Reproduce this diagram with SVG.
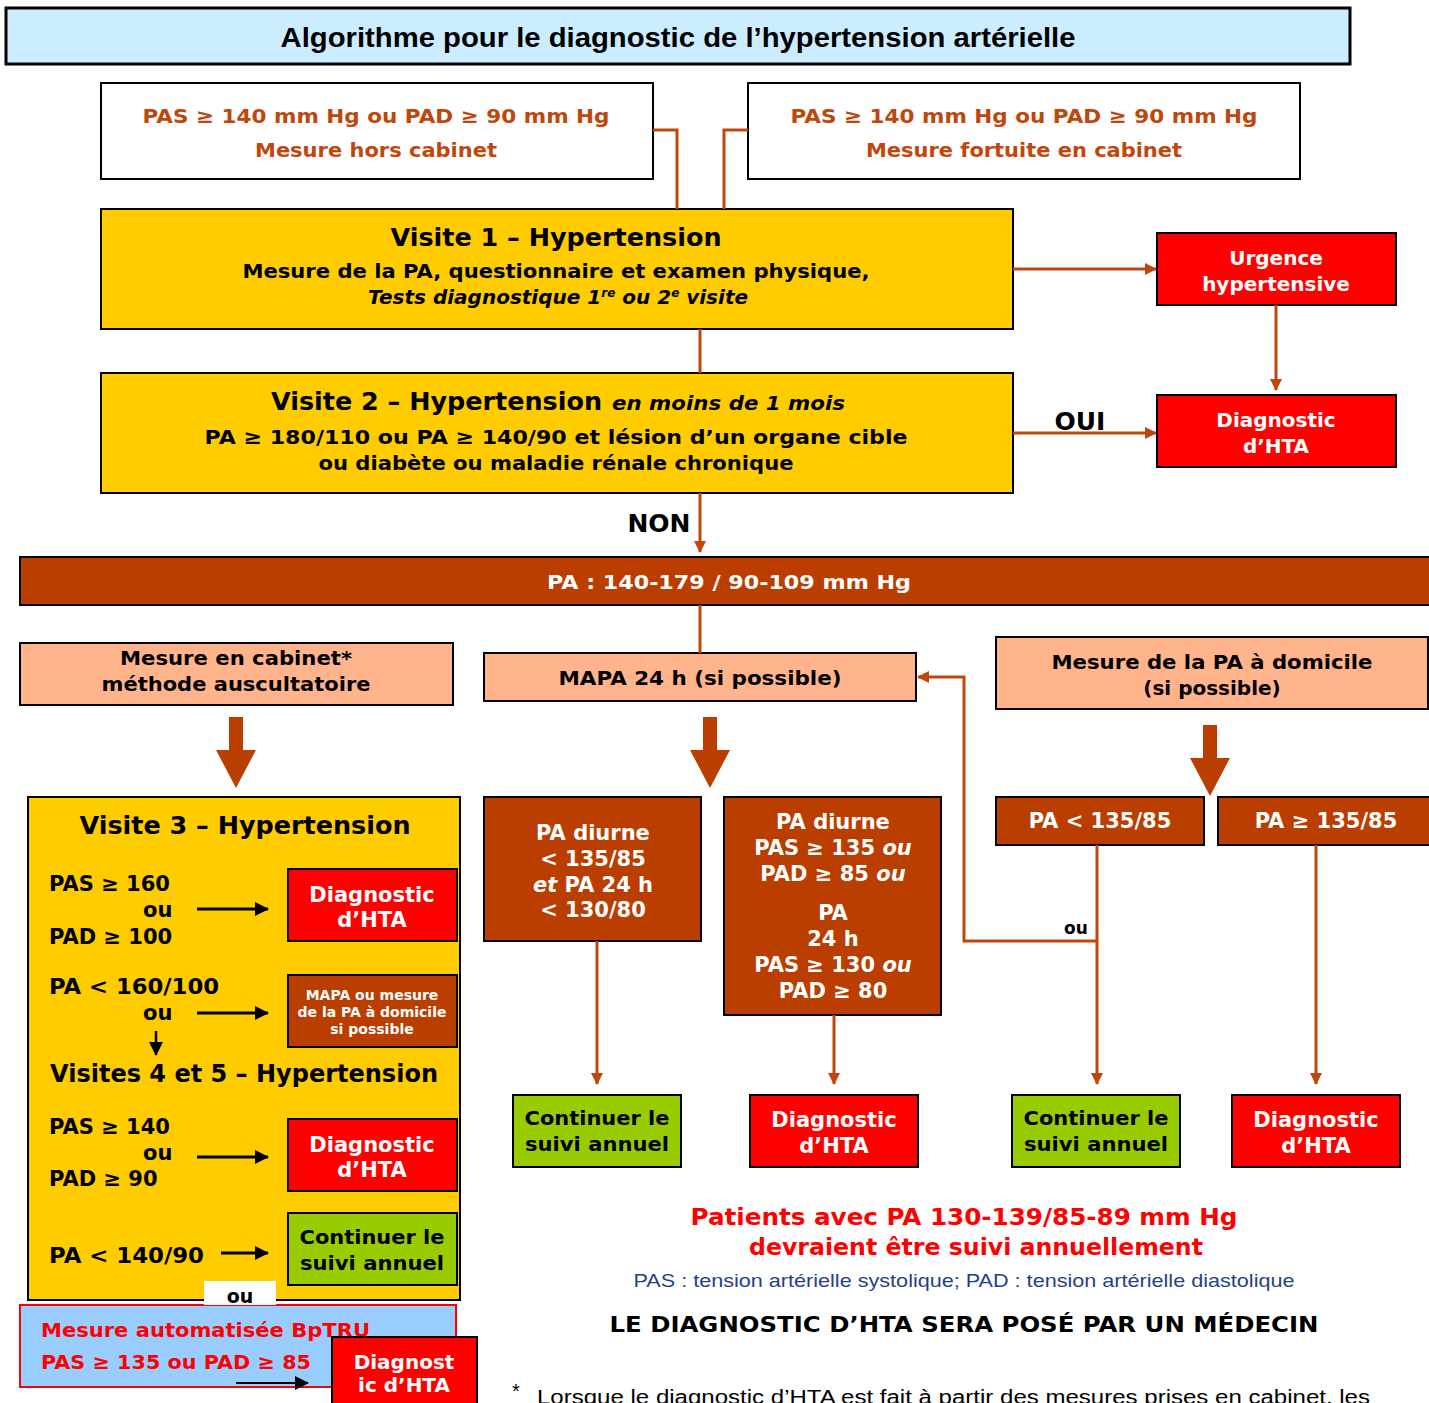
<svg xmlns="http://www.w3.org/2000/svg" width="1429" height="1403" viewBox="0 0 1429 1403">
<style>
.t{font-family:"DejaVu Sans","Verdana",sans-serif;font-weight:bold;text-anchor:middle}
.l{text-anchor:start}
.w{fill:#fff}
.k{fill:#000}
.o{fill:#C0470C}
.r{fill:#FF0000}
.box{stroke:#000;stroke-width:2}
.yel{fill:#FFCC00}
.red{fill:#FF0000}
.brn{fill:#BA3E00}
.pch{fill:#FFB48C}
.grn{fill:#99CC00}
.con{stroke:#C0470C;stroke-width:3;fill:none}
.blk{stroke:#000;stroke-width:3;fill:none}
.i{font-style:italic}
</style>
<defs>
<marker id="ah" viewBox="0 0 12 12" refX="11" refY="6" markerWidth="12" markerHeight="12" markerUnits="userSpaceOnUse" orient="auto"><path d="M0,0 L12,6 L0,12 z" fill="#C0470C"/></marker>
<marker id="ak" viewBox="0 0 14 14" refX="13" refY="7" markerWidth="16" markerHeight="14" markerUnits="userSpaceOnUse" orient="auto"><path d="M0,0 L14,7 L0,14 z" fill="#000"/></marker>
</defs>
<rect width="1429" height="1403" fill="#fff"/>

<g id="title">
<rect x="6" y="8" width="1344" height="56" fill="#CCECFF" stroke="#000" stroke-width="3"/>
<text x="678" y="47" font-family="'Liberation Sans',Arial,sans-serif" font-weight="bold" font-size="27" text-anchor="middle" textLength="795" lengthAdjust="spacingAndGlyphs">Algorithme pour le diagnostic de l’hypertension artérielle</text>
</g>

<g id="hors-cabinet">
<rect class="box" x="101" y="83" width="552" height="96" fill="#fff"/>
<text class="t o" x="376" y="123" font-size="20" textLength="467" lengthAdjust="spacingAndGlyphs">PAS ≥ 140 mm Hg ou PAD ≥ 90 mm Hg</text>
<text class="t o" x="376" y="157" font-size="20" textLength="242" lengthAdjust="spacingAndGlyphs">Mesure hors cabinet</text>
</g>

<g id="fortuite">
<rect class="box" x="748" y="83" width="552" height="96" fill="#fff"/>
<text class="t o" x="1024" y="123" font-size="20" textLength="467" lengthAdjust="spacingAndGlyphs">PAS ≥ 140 mm Hg ou PAD ≥ 90 mm Hg</text>
<text class="t o" x="1024" y="157" font-size="20" textLength="316" lengthAdjust="spacingAndGlyphs">Mesure fortuite en cabinet</text>
</g>

<g id="visite1">
<rect class="box yel" x="101" y="209" width="912" height="120"/>
<text class="t k" x="556" y="246" font-size="25" textLength="331" lengthAdjust="spacingAndGlyphs">Visite 1 – Hypertension</text>
<text class="t k" x="556" y="278" font-size="19" textLength="627" lengthAdjust="spacingAndGlyphs">Mesure de la PA, questionnaire et examen physique,</text>
<text class="t k i" x="558" y="304" font-size="20">Tests diagnostique 1<tspan font-size="12" dy="-7">re</tspan><tspan dy="7"> ou 2</tspan><tspan font-size="12" dy="-7">e</tspan><tspan dy="7"> visite</tspan></text>
</g>

<g id="urgence">
<rect class="box red" x="1157" y="233" width="239" height="72"/>
<text class="t w" x="1276" y="265" font-size="20">Urgence</text>
<text class="t w" x="1276" y="291" font-size="20">hypertensive</text>
</g>

<g id="visite2">
<rect class="box yel" x="101" y="373" width="912" height="120"/>
<text class="t k l" x="271" y="410" font-size="25" textLength="331" lengthAdjust="spacingAndGlyphs">Visite 2 – Hypertension</text>
<text class="t k l i" x="612" y="410" font-size="19" textLength="233" lengthAdjust="spacingAndGlyphs">en moins de 1 mois</text>
<text class="t k" x="556" y="444" font-size="20" textLength="703" lengthAdjust="spacingAndGlyphs">PA ≥ 180/110 ou PA ≥ 140/90 et lésion d’un organe cible</text>
<text class="t k" x="556" y="470" font-size="20" textLength="475" lengthAdjust="spacingAndGlyphs">ou diabète ou maladie rénale chronique</text>
</g>

<g id="diag1">
<rect class="box red" x="1157" y="395" width="239" height="72"/>
<text class="t w" x="1276" y="427" font-size="20">Diagnostic</text>
<text class="t w" x="1276" y="453" font-size="20">d’HTA</text>
</g>

<g id="pa-bar">
<rect class="box brn" x="20" y="557" width="1412" height="48"/>
<text class="t w" x="729" y="589" font-size="20" textLength="364" lengthAdjust="spacingAndGlyphs">PA : 140-179 / 90-109 mm Hg</text>
</g>

<g id="mesure-cabinet">
<rect class="box pch" x="20" y="643" width="433" height="62"/>
<text class="t k" x="236" y="665" font-size="20" textLength="232" lengthAdjust="spacingAndGlyphs">Mesure en cabinet*</text>
<text class="t k" x="236" y="691" font-size="20" textLength="269" lengthAdjust="spacingAndGlyphs">méthode auscultatoire</text>
</g>

<g id="mapa">
<rect class="box pch" x="484" y="653" width="432" height="48"/>
<text class="t k" x="700" y="685" font-size="20" textLength="283" lengthAdjust="spacingAndGlyphs">MAPA 24 h (si possible)</text>
</g>

<g id="domicile">
<rect class="box pch" x="996" y="637" width="432" height="72"/>
<text class="t k" x="1212" y="669" font-size="20" textLength="321" lengthAdjust="spacingAndGlyphs">Mesure de la PA à domicile</text>
<text class="t k" x="1212" y="695" font-size="20">(si possible)</text>
</g>

<g id="visite3">
<rect class="box yel" x="28" y="797" width="432" height="503"/>
<text class="t k" x="245" y="834" font-size="25" textLength="331" lengthAdjust="spacingAndGlyphs">Visite 3 – Hypertension</text>
<text class="t k l" x="49" y="891" font-size="21">PAS ≥ 160</text>
<text class="t k l" x="143" y="917" font-size="21">ou</text>
<text class="t k l" x="49" y="944" font-size="21">PAD ≥ 100</text>
<text class="t k l" x="49" y="994" font-size="21" textLength="170" lengthAdjust="spacingAndGlyphs">PA &lt; 160/100</text>
<text class="t k l" x="143" y="1020" font-size="21">ou</text>
<text class="t k l" x="50" y="1082" font-size="25" textLength="388" lengthAdjust="spacingAndGlyphs">Visites 4 et 5 – Hypertension</text>
<text class="t k l" x="49" y="1134" font-size="21">PAS ≥ 140</text>
<text class="t k l" x="143" y="1160" font-size="21">ou</text>
<text class="t k l" x="49" y="1186" font-size="21">PAD ≥ 90</text>
<text class="t k l" x="49" y="1263" font-size="21" textLength="155" lengthAdjust="spacingAndGlyphs">PA &lt; 140/90</text>
</g>

<g id="diag-v3">
<rect class="box red" x="288" y="869" width="169" height="72"/>
<text class="t w" x="372" y="902" font-size="21">Diagnostic</text>
<text class="t w" x="372" y="927" font-size="21">d’HTA</text>
</g>

<g id="mapa-small">
<rect class="box brn" x="288" y="975" width="169" height="72"/>
<text class="t w" x="372" y="1000" font-size="14">MAPA ou mesure</text>
<text class="t w" x="372" y="1017" font-size="14">de la PA à domicile</text>
<text class="t w" x="372" y="1034" font-size="14">si possible</text>
</g>

<g id="diag-v45">
<rect class="box red" x="288" y="1119" width="169" height="72"/>
<text class="t w" x="372" y="1152" font-size="21">Diagnostic</text>
<text class="t w" x="372" y="1177" font-size="21">d’HTA</text>
</g>

<g id="suivi-v45">
<rect class="box grn" x="288" y="1213" width="169" height="72"/>
<text class="t k" x="372" y="1244" font-size="20" textLength="145" lengthAdjust="spacingAndGlyphs">Continuer le</text>
<text class="t k" x="372" y="1270" font-size="20" textLength="144" lengthAdjust="spacingAndGlyphs">suivi annuel</text>
</g>

<g id="bptru">
<rect x="20" y="1305" width="436" height="82" fill="#99CCFF" stroke="#FF0000" stroke-width="2"/>
<text class="t r l" x="41" y="1337" font-size="20" textLength="329" lengthAdjust="spacingAndGlyphs">Mesure automatisée BpTRU</text>
<text class="t r l" x="41" y="1369" font-size="20" textLength="270" lengthAdjust="spacingAndGlyphs">PAS ≥ 135 ou PAD ≥ 85</text>
</g>

<g id="ou-label">
<rect x="204" y="1281" width="72" height="24" fill="#fff"/>
<text class="t k" x="240" y="1303" font-size="19">ou</text>
</g>

<g id="diag-bptru">
<rect class="box red" x="332" y="1337" width="145" height="70"/>
<text class="t w" x="404" y="1369" font-size="20">Diagnost</text>
<text class="t w" x="404" y="1392" font-size="20">ic d’HTA</text>
</g>

<g id="mapa-low">
<rect class="box brn" x="484" y="797" width="217" height="144"/>
<text class="t w" x="593" y="840" font-size="21">PA diurne</text>
<text class="t w" x="593" y="866" font-size="21">&lt; 135/85</text>
<text class="t w" x="593" y="892" font-size="21"><tspan class="i">et</tspan> PA 24 h</text>
<text class="t w" x="593" y="917" font-size="21">&lt; 130/80</text>
</g>

<g id="mapa-high">
<rect class="box brn" x="724" y="797" width="217" height="218"/>
<text class="t w" x="833" y="829" font-size="21">PA diurne</text>
<text class="t w" x="833" y="855" font-size="21">PAS ≥ 135 <tspan class="i">ou</tspan></text>
<text class="t w" x="833" y="881" font-size="21">PAD ≥ 85 <tspan class="i">ou</tspan></text>
<text class="t w" x="833" y="920" font-size="21">PA</text>
<text class="t w" x="833" y="946" font-size="21">24 h</text>
<text class="t w" x="833" y="972" font-size="21">PAS ≥ 130 <tspan class="i">ou</tspan></text>
<text class="t w" x="833" y="998" font-size="21">PAD ≥ 80</text>
</g>

<g id="dom-low">
<rect class="box brn" x="996" y="797" width="208" height="48"/>
<text class="t w" x="1100" y="828" font-size="21">PA &lt; 135/85</text>
</g>

<g id="dom-high">
<rect class="box brn" x="1218" y="797" width="214" height="48"/>
<text class="t w" x="1326" y="828" font-size="21">PA ≥ 135/85</text>
</g>

<g id="suivi-mapa">
<rect class="box grn" x="513" y="1095" width="168" height="72"/>
<text class="t k" x="597" y="1125" font-size="20" textLength="145" lengthAdjust="spacingAndGlyphs">Continuer le</text>
<text class="t k" x="597" y="1151" font-size="20" textLength="144" lengthAdjust="spacingAndGlyphs">suivi annuel</text>
</g>

<g id="diag-mapa">
<rect class="box red" x="750" y="1095" width="168" height="72"/>
<text class="t w" x="834" y="1127" font-size="21">Diagnostic</text>
<text class="t w" x="834" y="1153" font-size="21">d’HTA</text>
</g>

<g id="suivi-dom">
<rect class="box grn" x="1012" y="1095" width="168" height="72"/>
<text class="t k" x="1096" y="1125" font-size="20" textLength="145" lengthAdjust="spacingAndGlyphs">Continuer le</text>
<text class="t k" x="1096" y="1151" font-size="20" textLength="144" lengthAdjust="spacingAndGlyphs">suivi annuel</text>
</g>

<g id="diag-dom">
<rect class="box red" x="1232" y="1095" width="168" height="72"/>
<text class="t w" x="1316" y="1127" font-size="21">Diagnostic</text>
<text class="t w" x="1316" y="1153" font-size="21">d’HTA</text>
</g>

<g id="notes">
<text class="t r" x="964" y="1225" font-size="23" textLength="547" lengthAdjust="spacingAndGlyphs">Patients avec PA 130-139/85-89 mm Hg</text>
<text class="t r" x="976" y="1255" font-size="23" textLength="454" lengthAdjust="spacingAndGlyphs">devraient être suivi annuellement</text>
<text x="964" y="1287" font-family="'Liberation Sans',Arial,sans-serif" font-size="19" fill="#1F3F8F" text-anchor="middle" textLength="661" lengthAdjust="spacingAndGlyphs">PAS : tension artérielle systolique;  PAD : tension artérielle diastolique</text>
<text class="t k" x="964" y="1332" font-size="21" textLength="709" lengthAdjust="spacingAndGlyphs">LE DIAGNOSTIC D’HTA SERA POSÉ PAR UN MÉDECIN</text>
<text x="512" y="1398" font-family="'Liberation Sans',Arial,sans-serif" font-size="20" fill="#000">*</text>
<text x="537" y="1404" font-family="'Liberation Sans',Arial,sans-serif" font-size="20" fill="#000" textLength="833" lengthAdjust="spacingAndGlyphs">Lorsque le diagnostic d’HTA est fait à partir des mesures prises en cabinet, les</text>
</g>

<g id="connectors">
<polyline class="con" points="653,130 677,130 677,209"/>
<polyline class="con" points="748,130 724,130 724,209"/>
<line class="con" x1="1013" y1="269" x2="1156" y2="269" marker-end="url(#ah)"/>
<line class="con" x1="1276" y1="305" x2="1276" y2="390" marker-end="url(#ah)"/>
<line class="con" x1="700" y1="329" x2="700" y2="373"/>
<line class="con" x1="1013" y1="433" x2="1156" y2="433" marker-end="url(#ah)"/>
<line class="con" x1="700" y1="493" x2="700" y2="552" marker-end="url(#ah)"/>
<line class="con" x1="700" y1="605" x2="700" y2="653"/>
<polygon fill="#BA3E00" points="229,717 243,717 243,750 256,750 236,788 216,750 229,750"/>
<polygon fill="#BA3E00" points="703,717 717,717 717,750 730,750 710,788 690,750 703,750"/>
<polygon fill="#BA3E00" points="1203,725 1217,725 1217,758 1230,758 1210,796 1190,758 1203,758"/>
<line class="con" x1="597" y1="941" x2="597" y2="1084" marker-end="url(#ah)"/>
<line class="con" x1="834" y1="1015" x2="834" y2="1084" marker-end="url(#ah)"/>
<line class="con" x1="1097" y1="845" x2="1097" y2="1084" marker-end="url(#ah)"/>
<line class="con" x1="1316" y1="845" x2="1316" y2="1084" marker-end="url(#ah)"/>
<polyline class="con" points="1097,941 964,941 964,677 918,677" marker-end="url(#ah)"/>
<line class="blk" x1="197" y1="909" x2="268" y2="909" marker-end="url(#ak)"/>
<line class="blk" x1="197" y1="1013" x2="268" y2="1013" marker-end="url(#ak)"/>
<line x1="156" y1="1031" x2="156" y2="1055" stroke="#000" stroke-width="2.5" marker-end="url(#ak)"/>
<line class="blk" x1="197" y1="1157" x2="268" y2="1157" marker-end="url(#ak)"/>
<line class="blk" x1="221" y1="1253" x2="268" y2="1253" marker-end="url(#ak)"/>
<line x1="236" y1="1383" x2="308" y2="1383" stroke="#000" stroke-width="2" marker-end="url(#ak)"/>
</g>

<g id="labels">
<text class="t k" x="1080" y="430" font-size="25">OUI</text>
<text class="t k" x="659" y="532" font-size="25">NON</text>
<text class="t k" x="1076" y="934" font-size="17">ou</text>
</g>
</svg>
